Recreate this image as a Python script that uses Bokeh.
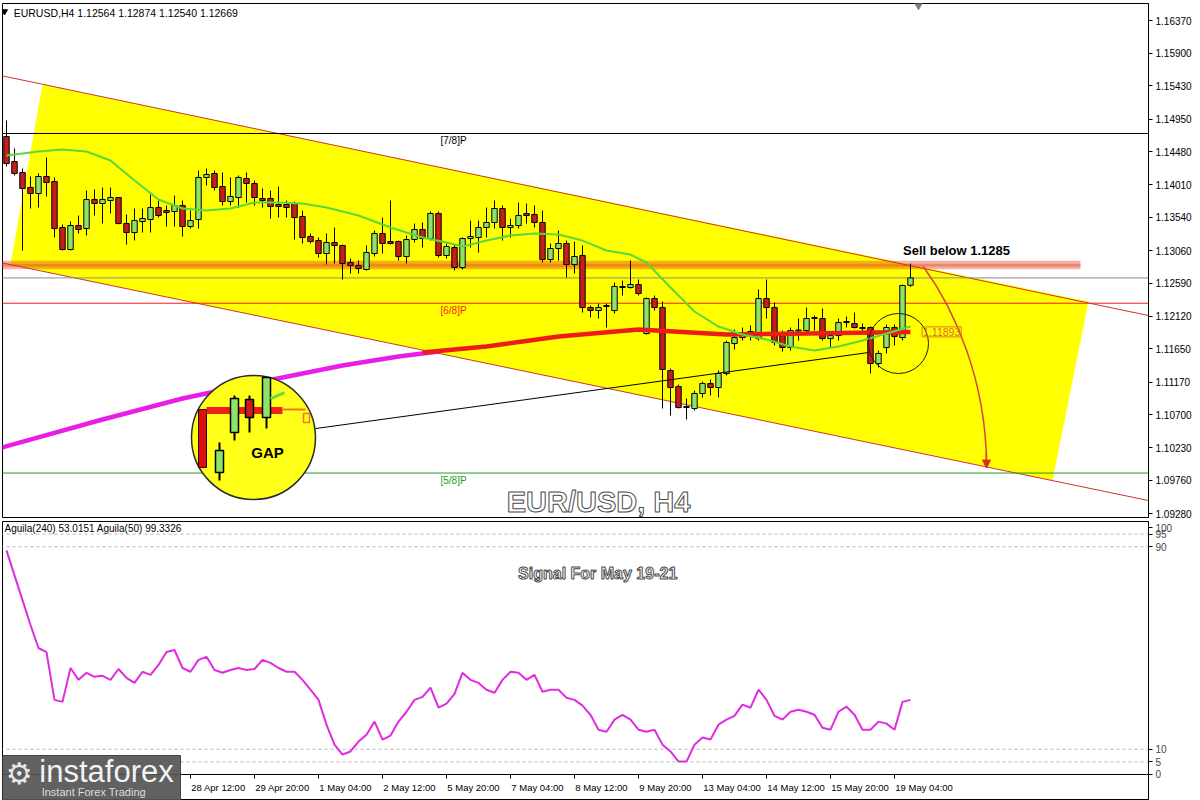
import numpy as np
from bokeh.plotting import figure
from bokeh.layouts import column
from bokeh.models import (Range1d, FixedTicker, PrintfTickFormatter, Label,
                          Arrow, NormalHead)
from bokeh.core.properties import value
from bokeh.embed import file_html
from bokeh.resources import INLINE

FONT = "Liberation Sans"

# ---------------- EURUSD H4 candles, oldest first ----------------
opens = [
    1.14702, 1.14343, 1.14185, 1.13969, 1.13883, 1.14127, 1.14055, 1.13394, 1.13077, 1.13422,
    1.13379, 1.13796, 1.13739, 1.13782, 1.13825, 1.13451, 1.13322, 1.13480, 1.13509, 1.13681,
    1.13638, 1.13624, 1.13710, 1.13408, 1.13509, 1.14113, 1.14170, 1.13983, 1.13768, 1.13825,
    1.14098, 1.14026, 1.13811, 1.13811, 1.13725, 1.13725, 1.13739, 1.13552, 1.13264, 1.13206,
    1.13020, 1.13178, 1.13135, 1.12890, 1.12847, 1.12790, 1.13020, 1.13307, 1.13192, 1.13192,
    1.12977, 1.13221, 1.13365, 1.13235, 1.13595, 1.12991, 1.13106, 1.12819, 1.13235, 1.13250,
    1.13394, 1.13466, 1.13667, 1.13394, 1.13422, 1.13595, 1.13581, 1.13466, 1.12933, 1.13092,
    1.13164, 1.12862, 1.12991, 1.12243, 1.12200, 1.12258, 1.12200, 1.12545, 1.12531, 1.12574,
    1.11869, 1.12373, 1.12243, 1.11337, 1.11107, 1.10805, 1.10791, 1.11007, 1.11150, 1.11093,
    1.11294, 1.11725, 1.11811, 1.11898, 1.11797, 1.12373, 1.12243, 1.11840, 1.11668, 1.11905,
    1.11912, 1.12085, 1.12085, 1.11797, 1.11840, 1.12027, 1.12013, 1.11956, 1.11956, 1.11438,
    1.11668, 1.11956, 1.11811, 1.12564]
highs = [
    1.14932, 1.14530, 1.14242, 1.14127, 1.14170, 1.14400, 1.14113, 1.13437, 1.13480, 1.13566,
    1.13926, 1.13940, 1.13969, 1.13969, 1.13825, 1.13581, 1.13667, 1.13667, 1.13868, 1.13782,
    1.13710, 1.13854, 1.13782, 1.13638, 1.14213, 1.14242, 1.14213, 1.14185, 1.14113, 1.14142,
    1.14185, 1.14069, 1.13955, 1.13926, 1.13983, 1.13782, 1.13768, 1.13638, 1.13307, 1.13250,
    1.13307, 1.13394, 1.13149, 1.12948, 1.12919, 1.13135, 1.13350, 1.13537, 1.13782, 1.13206,
    1.13279, 1.13451, 1.13466, 1.13624, 1.13624, 1.13164, 1.13149, 1.13250, 1.13494, 1.13494,
    1.13681, 1.13782, 1.13710, 1.13523, 1.13753, 1.13739, 1.13710, 1.13638, 1.13164, 1.13350,
    1.13206, 1.13192, 1.13135, 1.12272, 1.12301, 1.12301, 1.12603, 1.12631, 1.12919, 1.12646,
    1.12387, 1.12416, 1.12330, 1.11366, 1.11136, 1.10935, 1.11049, 1.11179, 1.11208, 1.11337,
    1.11768, 1.11927, 1.11956, 1.11984, 1.12502, 1.12646, 1.12315, 1.11912, 1.11956, 1.12085,
    1.12243, 1.12128, 1.12229, 1.11884, 1.12085, 1.12114, 1.12171, 1.12013, 1.11970, 1.11624,
    1.11999, 1.11999, 1.12574, 1.12874]
lows = [
    1.14271, 1.14142, 1.13063, 1.13667, 1.13681, 1.13840, 1.13250, 1.13063, 1.13063, 1.13307,
    1.13279, 1.13566, 1.13451, 1.13595, 1.13440, 1.13149, 1.13207, 1.13322, 1.13322, 1.13537,
    1.13408, 1.13408, 1.13264, 1.13379, 1.13379, 1.13998, 1.13926, 1.13710, 1.13710, 1.13681,
    1.13753, 1.13710, 1.13681, 1.13523, 1.13537, 1.13537, 1.13221, 1.13164, 1.13164, 1.12962,
    1.12862, 1.12876, 1.12646, 1.12732, 1.12732, 1.12775, 1.12977, 1.13020, 1.13149, 1.12919,
    1.12876, 1.13178, 1.13106, 1.13206, 1.12962, 1.12948, 1.12775, 1.12790, 1.13106, 1.13034,
    1.13250, 1.13379, 1.13206, 1.13250, 1.13379, 1.13451, 1.13394, 1.12890, 1.12890, 1.12919,
    1.12674, 1.12732, 1.12171, 1.12099, 1.12085, 1.11956, 1.12157, 1.12416, 1.12516, 1.12416,
    1.11855, 1.12200, 1.10791, 1.10690, 1.10791, 1.10633, 1.10762, 1.10949, 1.10978, 1.10949,
    1.11265, 1.11639, 1.11768, 1.11768, 1.11768, 1.12085, 1.11697, 1.11610, 1.11624, 1.11768,
    1.11869, 1.11912, 1.11768, 1.11668, 1.11768, 1.11956, 1.11941, 1.11869, 1.11294, 1.11380,
    1.11582, 1.11697, 1.11768, 1.12540]
closes = [
    1.14314, 1.14170, 1.13955, 1.13883, 1.14127, 1.14041, 1.13379, 1.13077, 1.13422, 1.13365,
    1.13796, 1.13739, 1.13796, 1.13825, 1.13451, 1.13322, 1.13494, 1.13523, 1.13681, 1.13566,
    1.13609, 1.13710, 1.13408, 1.13494, 1.14113, 1.14156, 1.13969, 1.13768, 1.13840, 1.14113,
    1.14026, 1.13825, 1.13782, 1.13696, 1.13696, 1.13681, 1.13537, 1.13250, 1.13192, 1.13020,
    1.13178, 1.13135, 1.12876, 1.12847, 1.12804, 1.13034, 1.13307, 1.13164, 1.13164, 1.12977,
    1.13221, 1.13365, 1.13235, 1.13595, 1.12991, 1.13121, 1.12819, 1.13235, 1.13264, 1.13394,
    1.13466, 1.13667, 1.13394, 1.13422, 1.13566, 1.13566, 1.13466, 1.12933, 1.13092, 1.13164,
    1.12862, 1.12977, 1.12243, 1.12200, 1.12243, 1.12272, 1.12545, 1.12531, 1.12574, 1.12445,
    1.12373, 1.12243, 1.11353, 1.11093, 1.10805, 1.10820, 1.11007, 1.11150, 1.11093, 1.11294,
    1.11740, 1.11811, 1.11884, 1.11855, 1.12373, 1.12243, 1.11740, 1.11668, 1.11912, 1.11920,
    1.12085, 1.12099, 1.11797, 1.11840, 1.12027, 1.12042, 1.11956, 1.11941, 1.11438, 1.11582,
    1.11956, 1.11826, 1.12560, 1.12669]

# Aguila oscillator, one value per bar (0..100)
aguila = [
    88.6, 78.7, 68.9, 59.1, 50.0, 48.4, 29.5, 28.7, 42.1, 37.4,
    40.2, 38.6, 39.0, 37.4, 41.7, 38.2, 36.2, 40.6, 39.4, 43.3,
    48.4, 49.2, 42.1, 40.6, 45.3, 46.5, 41.3, 40.2, 41.3, 42.1,
    41.3, 41.7, 45.3, 44.1, 42.1, 40.6, 40.6, 37.4, 33.5, 29.5,
    19.7, 11.8, 7.9, 9.1, 13.0, 15.7, 20.9, 13.8, 15.4, 20.9,
    24.8, 29.5, 30.7, 34.3, 26.4, 28.0, 31.9, 40.2, 37.4, 36.2,
    33.5, 32.3, 37.4, 40.6, 40.2, 37.4, 39.4, 32.7, 33.5, 33.5,
    30.3, 29.5, 27.2, 23.6, 17.7, 16.9, 21.7, 23.6, 21.7, 17.7,
    16.9, 17.7, 11.8, 9.1, 5.1, 5.1, 11.8, 14.6, 13.8, 19.7,
    21.7, 23.2, 27.6, 26.4, 33.5, 29.5, 23.2, 21.7, 24.8, 25.6,
    24.8, 23.6, 18.5, 17.7, 24.8, 26.8, 23.6, 17.7, 17.7, 20.9,
    20.1, 17.7, 28.7, 29.5]
aguila_levels = [95, 90, 10, 5]

# moving averages (bar number, price)
fast_ma_bars = [0, 4, 7, 10, 13, 16, 19, 22, 25, 28, 31, 34, 37, 40, 44, 48, 52, 55, 57, 60,
                63, 66, 69, 72, 75, 78, 80, 83, 86, 89, 92, 95, 98, 101, 104, 107, 110, 113]
fast_ma = [1.14429, 1.14486, 1.14515, 1.14486, 1.14357, 1.14069, 1.13796, 1.13667, 1.13638,
           1.13667, 1.13753, 1.13753, 1.13739, 1.13681, 1.13566, 1.13394, 1.13250, 1.13178,
           1.13121, 1.13206, 1.13279, 1.13307, 1.13293, 1.13206, 1.13063, 1.13005, 1.12890,
           1.12531, 1.12186, 1.11970, 1.11855, 1.11783, 1.11682, 1.11624, 1.11682, 1.11768,
           1.11869, 1.11970]
slow_ma_early_bars = [-1, 12, 22, 32, 42, 49, 54]
slow_ma_early = [1.10216, 1.10633, 1.10935, 1.11179, 1.11409, 1.11539, 1.11611]
slow_ma_bars = [52, 60, 69, 79, 90, 100, 113]
slow_ma = [1.11596, 1.11682, 1.11826, 1.11927, 1.11855, 1.11869, 1.11893]

# trend channel (bar number, price) and its shaded zone
channel_bars = [-0.75, 142.75]
channel_upper = [1.15580, 1.12128]
channel_lower = [1.12890, 1.09468]
zone_bars = [4.5, 135.25, 130.75, 0.5]
zone_prices = [1.15450, 1.12330, 1.09756, 1.12862]

sell_level = 1.1285

# Murrey math levels
level_names = ["[7/8]P", "[6/8]P", "[5/8]P"]
level_prices = [1.14746, 1.12305, 1.09863]
level_colors = ["black", "#ff1a1a", "#1e9a1e"]
last_price = 1.12669
ma_value = 1.11893

price_ticks = [1.16370, 1.15900, 1.15430, 1.14950, 1.14480, 1.14010, 1.13540, 1.13060,
               1.12590, 1.12120, 1.11650, 1.11170, 1.10700, 1.10230, 1.09760, 1.09280]
tick_bars = [23, 31, 39, 47, 55, 63, 71, 79, 87, 95, 103, 111]
tick_labels = ["28 Apr 12:00", "29 Apr 20:00", "1 May 04:00", "2 May 12:00", "5 May 20:00",
               "7 May 04:00", "8 May 12:00", "9 May 20:00", "13 May 04:00", "14 May 12:00",
               "15 May 20:00", "19 May 04:00"]

bars = np.arange(len(opens))
o = np.array(opens); h = np.array(highs); l = np.array(lows); c = np.array(closes)
rising = c >= o
full_width = [-0.75, 142.75]

# ================= price panel =================
p1 = figure(width=1200, height=520, x_range=Range1d(-0.5, 142.75),
            y_range=Range1d(1.09224, 1.16615), x_axis_location=None,
            y_axis_location="right", output_backend="svg", toolbar_location=None,
            min_border_left=2, min_border_right=52, min_border_top=3, min_border_bottom=3)
p1.xgrid.visible = False
p1.ygrid.visible = False
p1.outline_line_color = "black"
p1.border_fill_color = "white"

ax = p1.yaxis[0]
ax.ticker = FixedTicker(ticks=price_ticks)
ax.formatter = PrintfTickFormatter(format="%.5f")
ax.major_label_text_font = FONT
ax.major_label_text_font_size = "10px"
ax.major_label_text_color = "black"
ax.major_tick_out = 4
ax.major_tick_in = 0
ax.minor_tick_line_color = None
ax.major_label_standoff = 3
ax.axis_line_color = "black"

# shaded channel zone, sell band and channel borders
p1.patch(zone_bars, zone_prices, color="#ffff00", line_color=None)
p1.quad(left=[-0.75], right=[134.25], bottom=[sell_level - 0.00055], top=[sell_level + 0.00065],
        fill_color="#e8392e", fill_alpha=0.4, line_color=None)
p1.line([-0.75, 134.25], [sell_level, sell_level], color="#e05a1a", line_width=3, alpha=0.45)
p1.line(channel_bars, channel_upper, color="#c8372d", line_width=1)
p1.line(channel_bars, channel_lower, color="#c8372d", line_width=1)

for price, col in zip(level_prices, level_colors):
    p1.line(full_width, [price, price], color=col, line_width=1)
p1.line(full_width, [last_price, last_price], color="#8c8c8c", line_width=1)

# candles
p1.segment(x0=bars, y0=h, x1=bars, y1=l, color="black", line_width=1)
p1.vbar(x=bars[rising], width=0.68, bottom=o[rising], top=c[rising],
        fill_color="#8ce26a", line_color="black", line_width=1)
p1.vbar(x=bars[~rising], width=0.68, bottom=c[~rising], top=o[~rising],
        fill_color="#c81d1d", line_color="black", line_width=1)

# moving averages
p1.line(slow_ma_early_bars, slow_ma_early, color="#e81ee8", line_width=4.5)
p1.line(slow_ma_bars, slow_ma, color="#ee1c16", line_width=4.5)
p1.line(fast_ma_bars, fast_ma, color="#5ad83a", line_width=2)

# callout: link from the magnified circle to the circled bars
gap_bar, gap_price = 30.875, 1.10374
spot_bar, spot_price = 111.5, 1.11726
p1.line([38.625, 107.75], [1.10503, 1.11596], color="black", line_width=1)
p1.scatter([spot_bar], [spot_price], marker="circle", size=60, fill_color=None,
           line_color="#1a1a1a", line_width=1)
p1.scatter([gap_bar], [gap_price], marker="circle", size=124, fill_color="#ffff1a",
           line_color="#2a2a2a", line_width=1.5)

BAR_PX, PRICE_PX = 8.0, 6953.0


def ix(dx):
    return gap_bar + dx / BAR_PX


def iy(dy):
    return gap_price - dy / PRICE_PX


# magnified view inside the circle
p1.quad(left=[ix(-55)], right=[ix(-47)], top=[iy(-28)], bottom=[iy(30)],
        fill_color="#d81010", line_color="#300000")
p1.line([ix(-47), ix(29)], [iy(-27), iy(-27)], color="#ee2018", line_width=7)
p1.line([ix(29), ix(52)], [iy(-28), iy(-28)], color="#ee7722", line_width=2)
p1.quad(left=[ix(50)], right=[ix(56)], top=[iy(-24)], bottom=[iy(-15)],
        fill_color=None, line_color="#ee7722", line_width=1.5)
zoom_dx = [-34, -19, -4, 13]
zoom_top = [13, -39, -38, -60]
zoom_bot = [35, -5, -20, -20]
zoom_hi = [5, -42, -42, -60]
zoom_lo = [43, 3, -5, -9]
zoom_fill = ["#8ce26a", "#8ce26a", "#c81d1d", "#8ce26a"]
for dx, t, b, hi, lo, fc in zip(zoom_dx, zoom_top, zoom_bot, zoom_hi, zoom_lo, zoom_fill):
    p1.segment(x0=[ix(dx)], y0=[iy(hi)], x1=[ix(dx)], y1=[iy(lo)], color="black", line_width=2)
    p1.quad(left=[ix(dx - 4)], right=[ix(dx + 4)], top=[iy(t)], bottom=[iy(b)],
            fill_color=fc, line_color="black", line_width=1.5)
p1.line([ix(17), ix(31)], [iy(-39), iy(-45)], color="#66dd44", line_width=3)
p1.text([ix(14)], [iy(15)], text=["GAP"], text_font=value(FONT), text_font_style="bold",
        text_font_size="15px", text_color="black", text_align="center", text_baseline="middle")

# projected move
p1.bezier(x0=[114.6], y0=[1.12833], x1=[122.5], y1=[1.10014], cx0=[118.625], cy0=[1.12200],
          cx1=[122.375], cy1=[1.11193], line_color="#d9443a", line_width=1.5)
p1.add_layout(Arrow(end=NormalHead(size=8, fill_color="#e02a20", line_color="#e02a20"),
                    x_start=122.5, y_start=1.10158, x_end=122.5, y_end=1.09935,
                    line_color="#d9443a", line_width=1.5))

# texts
p1.text([118.75], [1.13063], text=["Sell below 1.1285"], text_font=value(FONT),
        text_font_style="bold", text_font_size="13px", text_color="black",
        text_align="center", text_baseline="middle")
p1.text([74.0], [1.09454], text=["EUR/USD, H4"], text_font=value(FONT), text_font_style="bold",
        text_font_size="29px", text_color="white", text_outline_color="#4a4a4a",
        text_align="center", text_baseline="middle")
level_text_y = [1.14644, 1.12200, 1.09756]
for name, ty, col in zip(level_names, level_text_y, level_colors):
    p1.text([54.25], [ty], text=[name], text_font=value(FONT), text_font_size="10px",
            text_color=col, text_align="left", text_baseline="middle")

p1.scatter([-0.25], [1.16500], marker="inverted_triangle", size=6, color="black")
p1.scatter([114], [1.16600], marker="inverted_triangle", size=9, color="#808080")
p1.add_layout(Label(x=0.9, y=1.16485, text="EURUSD,H4  %.5f %.5f %.5f %.5f" %
                    (opens[-1], highs[-1], lows[-1], closes[-1]),
                    text_font=FONT, text_font_size="10.5px", text_color="black",
                    text_baseline="middle", text_align="left"))
p1.add_layout(Label(x=116.9, y=ma_value, text="%.5f" % ma_value, text_font=FONT,
                    text_font_size="10.5px", text_color="#d8701e", text_align="center",
                    text_baseline="middle", border_line_color="#e07a20", padding=1))

# price tags on the scale
tag_prices = [level_prices[0], last_price, level_prices[1], level_prices[2]]
tag_colors = ["black", "black", "#ff1a1a", "#1e9a1e"]
for price, col in zip(tag_prices, tag_colors):
    p1.add_layout(Label(x=143.1, y=price, text="%.5f" % price, text_font=FONT,
                        text_font_size="10px", text_color="white", background_fill_color=col,
                        text_align="left", text_baseline="middle", padding=2))

# ================= oscillator panel (time scale drawn inside its frame) =================
p2 = figure(width=1200, height=280, x_range=p1.x_range, y_range=Range1d(-10.28, 100),
            x_axis_location=None, y_axis_location="right", output_backend="svg",
            toolbar_location=None, min_border_left=2, min_border_right=52,
            min_border_top=1, min_border_bottom=0)
p2.xgrid.visible = False
p2.ygrid.visible = False
p2.outline_line_color = "black"
p2.border_fill_color = "white"

for lvl in aguila_levels:
    p2.line(full_width, [lvl, lvl], color="#b8b8b8", line_width=1, line_dash="3 3")
p2.line(bars, aguila, color="#e02ce0", line_width=2)

# the top label sits just inside the panel, as the terminal draws it
top_label_pos = 97.6
ay = p2.yaxis[0]
ay.ticker = FixedTicker(ticks=[0, 5, 10, 90, 95, top_label_pos])
ay.major_label_overrides = {top_label_pos: "100"}
ay.major_label_text_font = FONT
ay.major_label_text_font_size = "10px"
ay.major_tick_out = 4
ay.major_tick_in = 0
ay.minor_tick_line_color = None
ay.major_label_standoff = 3

# time scale
n_ticks = len(tick_bars)
p2.line(full_width, [0, 0], color="black", line_width=1)
p2.segment(x0=tick_bars, y0=[0] * n_ticks, x1=tick_bars, y1=[-1.6] * n_ticks,
           color="black", line_width=1)
p2.text([b + 0.1 for b in tick_bars], [-5.1] * n_ticks, text=tick_labels,
        text_font=value(FONT), text_font_size="9.5px", text_color="black",
        text_align="left", text_baseline="middle")

p2.add_layout(Label(x=-0.25, y=97.2, text="Aguila(240) 53.0151  Aguila(50) 99.3326",
                    text_font=FONT, text_font_size="10px", text_color="black",
                    text_align="left", text_baseline="middle"))
p2.text([73.9], [79.4], text=["Signal For May 19-21"], text_font=value(FONT),
        text_font_style="bold", text_font_size="16px", text_color="white",
        text_outline_color="#4a4a4a", text_align="center", text_baseline="middle")

# brand badge
p2.quad(left=[-0.75], right=[21.75], bottom=[-10.5], top=[7.5], fill_color="#555555",
        fill_alpha=0.93, line_color="#444444")
p2.text([1.6], [0.3], text=["\u2699"], text_font=value("DejaVu Sans"), text_font_size="30px",
        text_color="#e8e8e8", text_align="center", text_baseline="middle")
p2.text([4.1], [1.2], text=["instaforex"], text_font=value(FONT), text_font_size="31px",
        text_color="#f2f2f2", text_align="left", text_baseline="middle")
p2.text([4.4], [-6.9], text=["Instant Forex Trading"], text_font=value(FONT),
        text_font_size="11px", text_color="#dddddd", text_align="left", text_baseline="middle")

layout = column(p1, p2)
open("out.html", "w").write(file_html(layout, INLINE, "EUR/USD H4"))
